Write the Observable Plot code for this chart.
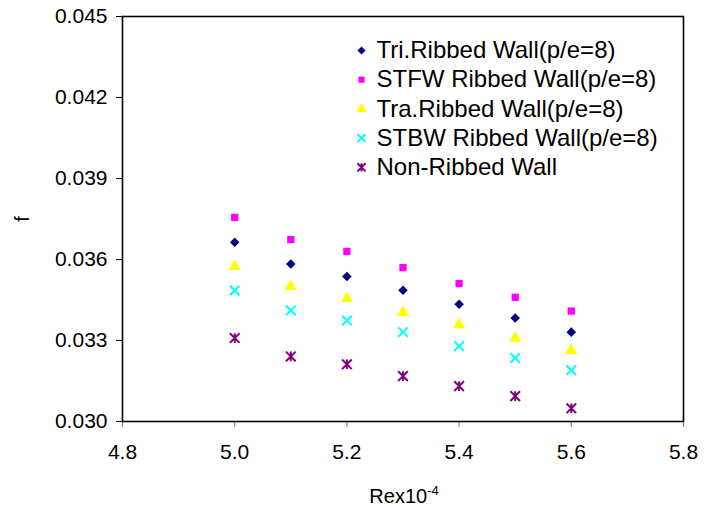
<!DOCTYPE html>
<html>
<head>
<meta charset="utf-8">
<script src="https://cdn.jsdelivr.net/npm/d3@7"></script>
<script src="https://cdn.jsdelivr.net/npm/@observablehq/plot@0.6"></script>
<style>
  html, body { margin: 0; padding: 0; background: #fff; }
  #chart { width: 713px; height: 510px; }
  svg { font-family: "Liberation Sans", Arial, sans-serif; }
</style>
</head>
<body>
<div id="chart"></div>
<script>
const re = [5.0, 5.1, 5.2, 5.3, 5.4, 5.5, 5.6];
const seriesNames = [
  "Tri.Ribbed Wall(p/e=8)",
  "STFW Ribbed Wall(p/e=8)",
  "Tra.Ribbed Wall(p/e=8)",
  "STBW Ribbed Wall(p/e=8)",
  "Non-Ribbed Wall"
];
const triRibbed = [0.03664, 0.03583, 0.03537, 0.03486, 0.03434, 0.03383, 0.03331];
const stfwRibbed = [0.03756, 0.03674, 0.03630, 0.03570, 0.03511, 0.03460, 0.03409];
const traRibbed = [0.03574, 0.03500, 0.03456, 0.03404, 0.03359, 0.03309, 0.03263];
const stbwRibbed = [0.03485, 0.03411, 0.03374, 0.03331, 0.03279, 0.03235, 0.03190];
const nonRibbed = [0.03309, 0.03241, 0.03212, 0.03168, 0.03131, 0.03094, 0.03049];
const xTicks = [4.8, 5.0, 5.2, 5.4, 5.6, 5.8];
const yTicks = [0.030, 0.033, 0.036, 0.039, 0.042, 0.045];

// Excel-like star marker: an X with a vertical bar
const star = {
  draw(context, size) {
    const r = Math.sqrt(size) * 0.62;
    context.moveTo(-r, -r); context.lineTo(r, r);
    context.moveTo(-r, r); context.lineTo(r, -r);
    context.moveTo(0, -r); context.lineTo(0, r);
  }
};

const series = [
  {name: seriesNames[0], values: triRibbed, symbol: "diamond2", color: "#000080", filled: true, r: 4.3},
  {name: seriesNames[1], values: stfwRibbed, symbol: "square", color: "#ff00ff", filled: true, r: 4.1},
  {name: seriesNames[2], values: traRibbed, symbol: "triangle", color: "#ffff00", filled: true, r: 4.6},
  {name: seriesNames[3], values: stbwRibbed, symbol: "times", color: "#00ffff", filled: false, r: 4.4},
  {name: seriesNames[4], values: nonRibbed, symbol: star, color: "#800080", filled: false, r: 4.4}
];

const marks = [];
series.forEach((s, i) => {
  const data = re.map((x, j) => ({x, y: s.values[j]}));
  const style = s.filled
    ? {fill: s.color, stroke: "none"}
    : {fill: "none", stroke: s.color, strokeWidth: 2};
  marks.push(Plot.dot(data, {x: "x", y: "y", symbol: () => s.symbol, r: s.r, ...style}));
  // legend entry
  marks.push(Plot.dot([s], {frameAnchor: "top-left", dx: 239, dy: 34 + i * 29.2, symbol: () => s.symbol, r: s.r * 0.85, ...style}));
  marks.push(Plot.text([s], {frameAnchor: "top-left", dx: 254, dy: 34 + i * 29.2, text: "name", textAnchor: "start", lineAnchor: "middle", fontSize: 24, fill: "#000"}));
});

const plot = Plot.plot({
  width: 713,
  height: 510,
  marginLeft: 122,
  marginRight: 30,
  marginTop: 16,
  marginBottom: 89,
  style: {fontFamily: "Liberation Sans, Arial, sans-serif", fontSize: "21px", color: "#000", background: "#fff"},
  x: {domain: [4.8, 5.8]},
  y: {domain: [0.030, 0.045]},
  symbol: {type: "identity"},
  marks: [
    Plot.axisX(xTicks, {tickSize: 6, tickPadding: 17, stroke: "#777", tickFormat: d => d.toFixed(1), label: null, fontSize: 21, fill: "#000"}),
    Plot.axisY(yTicks, {tickSize: 6, tickPadding: 9, stroke: "#000", tickFormat: d => d.toFixed(3), label: null, fontSize: 21, fill: "#000"}),
    ...marks,
    Plot.frame({stroke: "#000", strokeWidth: 1.6})
  ]
});

const svg = d3.select(plot);
// y axis title
svg.append("text")
  .attr("transform", "translate(29,219) rotate(-90)")
  .attr("text-anchor", "middle")
  .attr("font-size", 20)
  .attr("fill", "#000")
  .text("f");
// x axis title with superscript
const xt = svg.append("text")
  .attr("x", 404)
  .attr("y", 503)
  .attr("text-anchor", "middle")
  .attr("font-size", 20)
  .attr("fill", "#000");
xt.append("tspan").text("Rex10");
xt.append("tspan").attr("dy", -8).attr("font-size", 13).text("-4");

document.getElementById("chart").appendChild(plot);
</script>
</body>
</html>
